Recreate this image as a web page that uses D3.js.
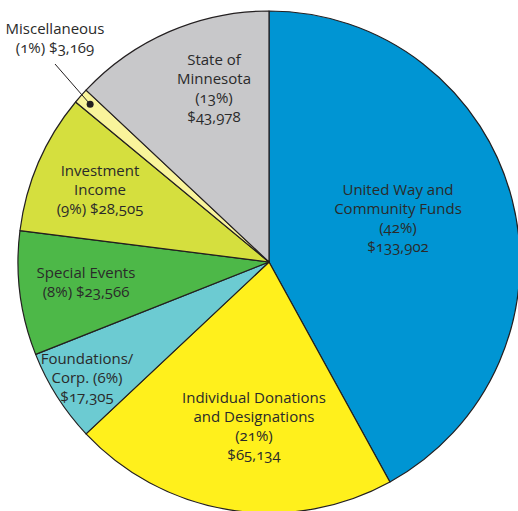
<!DOCTYPE html>
<html>
<head>
<meta charset="utf-8">
<script src="https://cdn.jsdelivr.net/npm/d3@7"></script>
<style>
  body { margin: 0; background: #fff; }
  text { font-family: "Open Sans", Lato, sans-serif; font-size: 15px; fill: #2a2a2a; font-variant-numeric: oldstyle-nums; }
</style>
</head>
<body>
<div id="chart"></div>
<script>
var width = 518, height = 511;
var cx = 269, cy = 262, radius = 251;

// funding sources, clockwise from 12 o'clock
var sources = ["United Way and Community Funds", "Individual Donations and Designations",
  "Foundations/ Corp.", "Special Events", "Investment Income", "Miscellaneous", "State of Minnesota"];
var percents = [42, 21, 6, 8, 9, 1, 13];
var amounts = ["$133,902", "$65,134", "$17,305", "$23,566", "$28,505", "$3,169", "$43,978"];
var colors = ["#0095d3", "#fff01c", "#6ccbd2", "#4db848", "#d5df3e", "#f9f49b", "#c8c8ca"];

// label lines for each slice
var labelLines = [
  ["United Way and", "Community Funds", "(42%)", "$133,902"],
  ["Individual Donations", "and Designations", "(21%)", "$65,134"],
  ["Foundations/", "Corp. (6%)", "$17,305"],
  ["Special Events", "(8%) $23,566"],
  ["Investment", "Income", "(9%) $28,505"],
  ["Miscellaneous", "(1%) $3,169"],
  ["State of", "Minnesota", "(13%)", "$43,978"]
];
// label centre (x) and first baseline (y)
var labelPos = [[398, 195], [254, 403], [87, 364], [86, 278], [100, 176], [55, 34], [214, 65]];

var svg = d3.select("#chart").append("svg")
  .attr("width", width)
  .attr("height", height);

var pie = d3.pie().sort(null).value(function(d) { return d; });
var arc = d3.arc().innerRadius(0).outerRadius(radius);

var g = svg.append("g").attr("transform", "translate(" + cx + "," + cy + ")");

g.selectAll("path")
  .data(pie(percents))
  .enter()
  .append("path")
  .attr("d", arc)
  .style("fill", function(d, i) { return colors[i]; })
  .style("stroke", "#231f20")
  .style("stroke-width", 1.2)
  .style("stroke-linejoin", "round");

// leader for the tiny slice
var misc = pie(percents)[5];
var midA = (misc.startAngle + misc.endAngle) / 2;
var dotR = radius * 0.95;
var dot = [Math.sin(midA) * dotR, -Math.cos(midA) * dotR];
g.append("line")
  .attr("x1", dot[0]).attr("y1", dot[1])
  .attr("x2", 55 - cx).attr("y2", 64 - cy)
  .style("stroke", "#231f20")
  .style("stroke-width", 1);
g.append("circle")
  .attr("cx", dot[0]).attr("cy", dot[1])
  .attr("r", 3.5)
  .style("fill", "#231f20");

var labels = svg.selectAll("text.lbl")
  .data(labelLines)
  .enter()
  .append("text")
  .attr("class", "lbl")
  .attr("text-anchor", "middle")
  .attr("x", function(d, i) { return labelPos[i][0]; })
  .attr("y", function(d, i) { return labelPos[i][1]; });

labels.selectAll("tspan")
  .data(function(d, i) { return d.map(function(s) { return {s: s, x: labelPos[i][0]}; }); })
  .enter()
  .append("tspan")
  .attr("x", function(d) { return d.x; })
  .attr("dy", function(d, j) { return j == 0 ? 0 : 19; })
  .text(function(d) { return d.s; });
</script>
</body>
</html>
